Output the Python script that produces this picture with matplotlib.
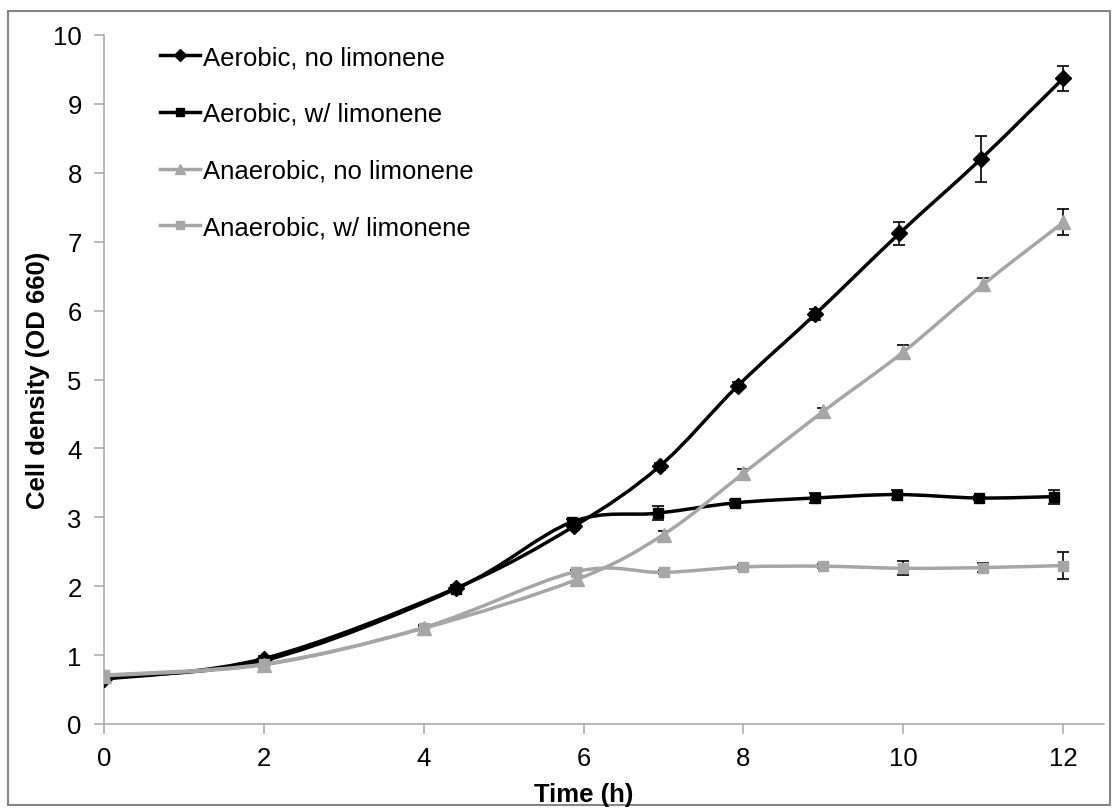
import matplotlib
matplotlib.use("Agg")
import matplotlib.pyplot as plt
from matplotlib.path import Path
from matplotlib.patches import PathPatch, Rectangle
from matplotlib.lines import Line2D

plt.rcParams['font.family'] = ['Liberation Sans', 'DejaVu Sans']

# time points (h) and OD660 values
t_aer_nolim = [0, 2, 4.4, 5.88, 6.95, 7.93, 8.9, 9.95, 10.97, 12]
od_aer_nolim = [0.65, 0.95, 1.97, 2.87, 3.74, 4.91, 5.95, 7.12, 8.20, 9.37]
err_aer_nolim = [0.02, 0.03, 0.05, 0.05, 0.05, 0.05, 0.08, 0.17, 0.33, 0.18]

t_aer_lim = [0, 2, 4.4, 5.85, 6.93, 7.9, 8.89, 9.92, 10.94, 11.89]
od_aer_lim = [0.68, 0.92, 1.96, 2.93, 3.06, 3.21, 3.28, 3.33, 3.28, 3.30]
err_aer_lim = [0.02, 0.02, 0.03, 0.04, 0.10, 0.04, 0.07, 0.06, 0.03, 0.10]

t_ana_nolim = [0, 2, 4, 5.92, 7, 8, 9, 10, 11, 12]
od_ana_nolim = [0.70, 0.86, 1.39, 2.10, 2.75, 3.64, 4.54, 5.40, 6.38, 7.28]
err_ana_nolim = [0.02, 0.03, 0.03, 0.05, 0.05, 0.06, 0.05, 0.10, 0.10, 0.19]

t_ana_lim = [0, 2, 4, 5.9, 7, 8, 9, 10, 11, 12]
od_ana_lim = [0.71, 0.87, 1.40, 2.21, 2.20, 2.28, 2.29, 2.26, 2.27, 2.30]
err_ana_lim = [0.02, 0.02, 0.03, 0.03, 0.03, 0.03, 0.03, 0.10, 0.07, 0.20]

labels = ['Aerobic, no limonene', 'Aerobic, w/ limonene',
          'Anaerobic, no limonene', 'Anaerobic, w/ limonene']

BLACK = '#000000'
GRAY = '#A6A6A6'
AXC = '#A6A6A6'
FS = 18.5


# smoothed line like excel (catmull-rom as cubic bezier)
def smooth_path(x, y):
    n = len(x)
    verts = [(x[0], y[0])]
    codes = [Path.MOVETO]
    for i in range(n - 1):
        x0, y0 = (x[i - 1], y[i - 1]) if i > 0 else (x[i], y[i])
        x3, y3 = (x[i + 2], y[i + 2]) if i + 2 < n else (x[i + 1], y[i + 1])
        c1 = (x[i] + (x[i + 1] - x0) / 6.0, y[i] + (y[i + 1] - y0) / 6.0)
        c2 = (x[i + 1] - (x3 - x[i]) / 6.0, y[i + 1] - (y3 - y[i]) / 6.0)
        verts += [c1, c2, (x[i + 1], y[i + 1])]
        codes += [Path.CURVE4] * 3
    return Path(verts, codes)


fig = plt.figure(figsize=(11.17, 8.12), dpi=100)
ax = fig.add_axes([104 / 1117, 1 - 725 / 812, 1000 / 1117, 689 / 812])

series = [
    (t_aer_nolim, od_aer_nolim, err_aer_nolim, BLACK, 'D', 8.5),
    (t_aer_lim, od_aer_lim, err_aer_lim, BLACK, 's', 7.5),
    (t_ana_nolim, od_ana_nolim, err_ana_nolim, GRAY, '^', 10),
    (t_ana_lim, od_ana_lim, err_ana_lim, GRAY, 's', 7.5),
]

handles = []
for k, (t, od, err, c, m, ms) in enumerate(series):
    z = 3 + k
    ax.errorbar(t, od, yerr=err, fmt='none', ecolor='black', elinewidth=1.2,
                capsize=4, capthick=1.2, zorder=z)
    ax.add_patch(PathPatch(smooth_path(t, od), facecolor='none', edgecolor=c,
                           lw=2.5, zorder=z + 0.1, capstyle='round', joinstyle='round'))
    ax.plot(t, od, linestyle='none', marker=m, ms=ms, color=c, mec=c, zorder=z + 0.2)
    handles.append(Line2D([], [], color=c, lw=2.5, marker=m, ms=ms * 0.7, mec=c))

ax.set_xlim(0, 12.51)
ax.set_ylim(0, 10)
ax.set_xticks(range(0, 13, 2))
ax.set_yticks(range(0, 11))

for s in ['top', 'right']:
    ax.spines[s].set_visible(False)
for s in ['left', 'bottom']:
    ax.spines[s].set_color(AXC)
    ax.spines[s].set_linewidth(1.1)
ax.tick_params(direction='out', length=7, width=1.1, color=AXC,
               labelsize=FS, pad=9)

fig.text(38 / 1117, 1 - 380 / 812, 'Cell density (OD 660)', rotation=90,
         ha='center', va='center', fontsize=FS, fontweight='bold')
fig.text(584 / 1117, 1 - 795 / 812, 'Time (h)', ha='center', va='center',
         fontsize=FS, fontweight='bold')

ax.legend(handles, labels, loc='upper left', bbox_to_anchor=(0.046, 1.0),
          frameon=False, fontsize=FS, handlelength=1.55, handletextpad=0.1,
          labelspacing=1.27, borderaxespad=0)

# grey chart border
fig.patches.append(Rectangle((8 / 1117, 1 - 806 / 812), 1102 / 1117, 794 / 812,
                             transform=fig.transFigure, fill=False,
                             edgecolor='#868686', lw=1.5))

fig.savefig('out.png', dpi=100)
